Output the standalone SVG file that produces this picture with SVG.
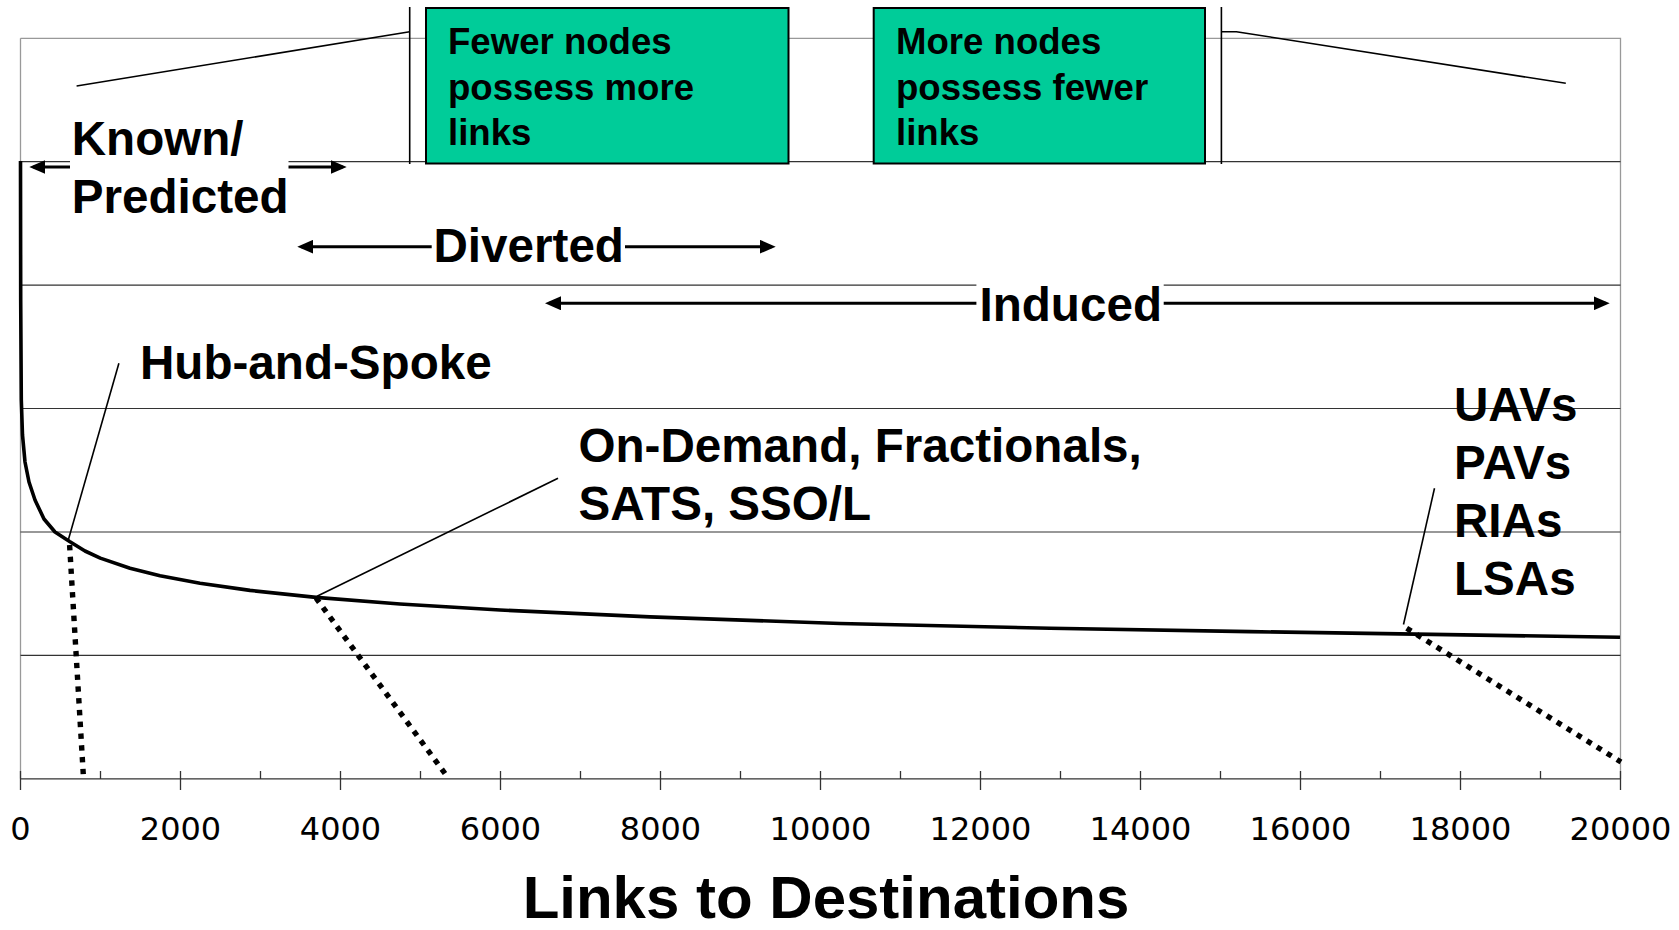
<svg xmlns="http://www.w3.org/2000/svg" width="1679" height="930" viewBox="0 0 1679 930">
<defs>
<marker id="ah" markerUnits="userSpaceOnUse" markerWidth="16" markerHeight="14" refX="12" refY="7" orient="auto-start-reverse" viewBox="0 0 16 14"><path d="M0,0 L16,7 L0,14 z" fill="#000"/></marker>
<style>
.lbl{font-family:"Liberation Sans",Arial,sans-serif;font-weight:bold;font-size:47.6px;fill:#000}
.bt{font-family:"Liberation Sans",Arial,sans-serif;font-weight:bold;font-size:36.6px;fill:#000}
.tick{font-family:"DejaVu Sans",Verdana,sans-serif;font-size:32px;fill:#000;text-anchor:middle}
.title{font-family:"Liberation Sans",Arial,sans-serif;font-weight:bold;font-size:60px;fill:#000;text-anchor:middle}
.grid{stroke:#333;stroke-width:1.2;fill:none}
.frame{stroke:#999;stroke-width:1.3;fill:none}
.axis{stroke:#333;stroke-width:1.3;fill:none}
.dot{stroke:#000;stroke-width:5.4;stroke-dasharray:5.4 6.4;fill:none}
.thin{stroke:#000;stroke-width:1.6;fill:none}
.arrow{stroke:#000;stroke-width:3;fill:none;marker-start:url(#ah);marker-end:url(#ah)}
.green{fill:#00CC99;stroke:#000;stroke-width:2}
.mask{fill:#fff}
</style>
</defs>
<rect width="1679" height="930" fill="#fff"/>

<g id="chart">
  <path class="frame" d="M20.5,38.3 H1620.5 V778.8 M20.5,38.3 V778.8"/>
  <path class="grid" d="M20.5,161.7 H1620.5 M20.5,285.1 H1620.5 M20.5,408.5 H1620.5 M20.5,532 H1620.5 M20.5,655.4 H1620.5"/>
  <path class="axis" d="M20.5,778.8 H1620.5
    M20.5,771 V790 M180.5,771 V790 M340.5,771 V790 M500.5,771 V790 M660.5,771 V790 M820.5,771 V790 M980.5,771 V790 M1140.5,771 V790 M1300.5,771 V790 M1460.5,771 V790 M1620.5,771 V790
    M100.5,771 V779 M260.5,771 V779 M420.5,771 V779 M580.5,771 V779 M740.5,771 V779 M900.5,771 V779 M1060.5,771 V779 M1220.5,771 V779 M1380.5,771 V779 M1540.5,771 V779"/>
  <g class="tick">
    <text x="20.5" y="840">0</text>
    <text x="180.5" y="840">2000</text>
    <text x="340.5" y="840">4000</text>
    <text x="500.5" y="840">6000</text>
    <text x="660.5" y="840">8000</text>
    <text x="820.5" y="840">10000</text>
    <text x="980.5" y="840">12000</text>
    <text x="1140.5" y="840">14000</text>
    <text x="1300.5" y="840">16000</text>
    <text x="1460.5" y="840">18000</text>
    <text x="1620.5" y="840">20000</text>
  </g>
  <text class="title" x="826" y="918">Links to Destinations</text>
</g>

<g id="curve">
  <path d="M20.5,161 L20.7,300 L21.3,400 L22.5,435 L25,462 L29,482 L35,500 L44,519 L55,532 L69.6,541.5 L85,551 L100.3,558.1 L130,568.2 L160,575.8 L200,583.3 L250,590.4 L316,597.4 L400,604 L500,610 L650,616.9 L840,623.5 L1050,628.3 L1250,631.6 L1400,633.9 L1620,637.3" fill="none" stroke="#000" stroke-width="3.6" stroke-linejoin="round"/>
</g>

<g id="connectors">
  <path class="dot" d="M69.6,545 L83.5,778"/>
  <path class="dot" d="M316,598 L447.5,777"/>
  <path class="dot" d="M1406.7,628.3 L1621,762"/>
  <path class="thin" d="M68,541 L118.9,363.3"/>
  <path class="thin" d="M316,596.7 L558,478.3"/>
  <path class="thin" d="M1403.5,624.5 L1434.5,488.3"/>
  <path class="thin" d="M76.6,86 L409.7,31.7"/>
  <path class="thin" d="M1221.4,31.7 L1236.4,31.7 L1565.8,83.3"/>
  <path class="thin" d="M409.7,7 V164 M1221.4,7 V164"/>
  <line class="arrow" x1="33.3" y1="167" x2="342.7" y2="167"/>
  <line class="arrow" x1="301.3" y1="246.7" x2="771.7" y2="246.7"/>
  <line class="arrow" x1="549" y1="303.3" x2="1605.7" y2="303.3"/>
</g>

<g id="known-predicted">
  <rect class="mask" x="70" y="108" width="218.5" height="115"/>
  <text class="lbl" x="71.7" y="155">Known/</text>
  <text class="lbl" x="71.7" y="213">Predicted</text>
</g>
<g id="diverted">
  <rect class="mask" x="431.7" y="222" width="193.3" height="50"/>
  <text class="lbl" x="433.5" y="262.3">Diverted</text>
</g>
<g id="induced">
  <rect class="mask" x="976.4" y="272" width="187.3" height="58"/>
  <text class="lbl" x="979.5" y="320.5">Induced</text>
</g>
<g id="hub-and-spoke">
  <text class="lbl" x="140" y="379">Hub-and-Spoke</text>
</g>
<g id="on-demand">
  <text class="lbl" x="578.5" y="461.7">On-Demand, Fractionals,</text>
  <text class="lbl" x="578.5" y="520">SATS, SSO/L</text>
</g>
<g id="uavs">
  <text class="lbl" x="1454" y="421">UAVs</text>
  <text class="lbl" x="1454" y="479">PAVs</text>
  <text class="lbl" x="1454" y="537">RIAs</text>
  <text class="lbl" x="1454" y="595">LSAs</text>
</g>
<g id="box-fewer">
  <rect class="green" x="426" y="8" width="362.5" height="155.5"/>
  <text class="bt" x="448" y="54.3">Fewer nodes</text>
  <text class="bt" x="448" y="99.7">possess more</text>
  <text class="bt" x="448" y="145">links</text>
</g>
<g id="box-more">
  <rect class="green" x="873.7" y="8" width="331.3" height="155.5"/>
  <text class="bt" x="896" y="54.3">More nodes</text>
  <text class="bt" x="896" y="99.7">possess fewer</text>
  <text class="bt" x="896" y="145">links</text>
</g>
</svg>
